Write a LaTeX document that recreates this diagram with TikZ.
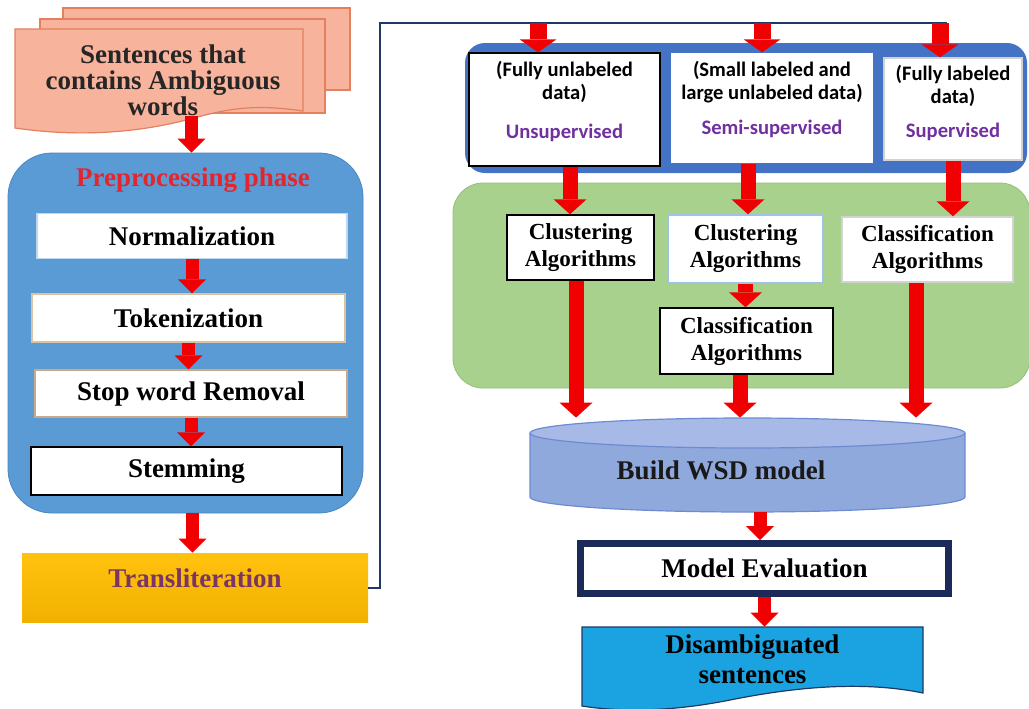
\documentclass[tikz,border=0pt]{standalone}
\usepackage{fontspec}
\setmainfont{Liberation Serif}
\newfontfamily\calibfont{Carlito}
\usepackage{tikz}
\usetikzlibrary{positioning,arrows.meta,calc}

\definecolor{docfill}{HTML}{F7B39B}
\definecolor{docline}{HTML}{E3805F}
\definecolor{prepblue}{HTML}{5B9BD5}
\definecolor{prepline}{HTML}{4A86C0}
\definecolor{headred}{HTML}{E3262D}
\definecolor{goldtop}{HTML}{FFC20E}
\definecolor{goldbot}{HTML}{F2B100}
\definecolor{transtext}{HTML}{7A3566}
\definecolor{linknavy}{HTML}{1F3864}
\definecolor{topblue}{HTML}{4472C4}
\definecolor{purp}{HTML}{7030A0}
\definecolor{algogreen}{HTML}{A9D18E}
\definecolor{algoline}{HTML}{94BF78}
\definecolor{cylfill}{HTML}{8FA9DC}
\definecolor{cyltop}{HTML}{A7B9E6}
\definecolor{cylline}{HTML}{6E8BD0}
\definecolor{evalnavy}{HTML}{1C2A5A}
\definecolor{outblue}{HTML}{1AA3E0}
\definecolor{arrowred}{HTML}{F00000}
\definecolor{normline}{HTML}{BDD7EE}
\definecolor{tokline}{HTML}{D9C3A0}
\definecolor{stopline}{HTML}{C9A98A}
\definecolor{clusline}{HTML}{9DC3E6}

\newcommand\boxfont{\fontsize{13.5}{13}\selectfont\bfseries}
\newcommand\algofont{\fontsize{11.5}{13.5}\selectfont\bfseries}
\newcommand\datafont{\calibfont\fontsize{10.3}{11.5}\selectfont\bfseries}

\begin{document}
\begin{tikzpicture}[x=0.5pt, y=-0.5pt,
  every node/.style = {align=center, inner sep=0pt},
  stepbox/.style = {rectangle, fill=white, draw=#1, line width=0.6pt, font=\boxfont},
  stepbox/.default = black,
  algobox/.style = {rectangle, fill=white, line width=0.7pt, font=\algofont},
  databox/.style = {rectangle, fill=white, line width=0.7pt},
  docsheet/.style = {fill=docfill, draw=docline, line width=0.6pt},
  linkline/.style = {draw=linknavy, line width=1pt},
  smallarrow/.style = {draw=arrowred, line width=6.5pt, -{Triangle[width=14pt, length=7pt, line width=0pt]}},
  midarrow/.style = {draw=arrowred, line width=7.5pt, -{Triangle[width=16.5pt, length=7.5pt, line width=0pt]}},
  toparrow/.style = {draw=arrowred, line width=8.5pt, -{Triangle[width=18.5pt, length=6.5pt, line width=0pt]}}
  ]
  \useasboundingbox (0,0) rectangle (1029,708);

  % input sentences
  \filldraw[docsheet] (63,8) rectangle (350,90);
  \filldraw[docsheet] (40,19) rectangle (325,113);
  \filldraw[docsheet] (15,29) -- (303,29) -- (303,111) .. controls (255,104) and (230,108) .. (190,119)
    .. controls (130,135) and (70,136) .. (15,128) -- cycle;
  \node (docs) [font=\boxfont, text=black!85] at (163,80) {Sentences that\\contains Ambiguous\\words};

  % preprocessing
  \node (prep) [rectangle, rounded corners=22pt, fill=prepblue, draw=prepline,
    minimum width=177.5pt, minimum height=180pt] at (185.5,333) {};
  \node (prephead) [font=\boxfont, text=headred] at (193,180) {Preprocessing phase};
  \node (norm) [stepbox=normline, minimum width=155pt, minimum height=22.5pt] at (192,236) {Normalization};
  \node (tok) [stepbox=tokline, minimum width=156.5pt, minimum height=24pt] at (188.5,318) {Tokenization};
  \node (stop) [stepbox=stopline, minimum width=156pt, minimum height=23.5pt] at (191,393.5) {Stop word Removal};
  \node (stem) [stepbox, minimum width=155.5pt, minimum height=24pt] at (186.5,471) {Stemming};
  \node (translit) [rectangle, top color=goldtop, bottom color=goldbot, minimum width=173pt,
    minimum height=34.5pt, text depth=9.5pt, font=\boxfont, text=transtext] at (195,587.5) {Transliteration};

  \draw[smallarrow] ([xshift=3pt]prep.north |- docs.south) -- ([xshift=3pt]prep.north);
  \draw[smallarrow] (norm.south) -- (norm.south |- tok.north);
  \draw[smallarrow] (tok.south) -- (tok.south |- stop.north);
  \draw[smallarrow] (stop.south) -- (stop.south |- stem.north);
  \draw[smallarrow] ([xshift=3.5pt]prep.south) -- ([xshift=3.5pt]prep.south |- translit.north);

  % link to the data types
  \coordinate (linkup) at (380,23);
  \coordinate (linkend) at (947,23);
  \coordinate (in1) at (538,23);
  \coordinate (in2) at (762,23);
  \coordinate (in3) at (940,23);
  \draw[linkline] (translit.east) -| (linkup) -- (linkend);

  % data types
  \node (datapanel) [rectangle, rounded corners=10pt, fill=topblue, minimum width=281pt,
    minimum height=65pt] at (746,108) {};
  \node (unsup) [databox, draw=black, minimum width=95.5pt, minimum height=56.5pt] at (564.5,109.5) {};
  \node (semi) [databox, minimum width=101pt, minimum height=55pt] at (772,108) {};
  \node (sup) [databox, draw=gray!35, minimum width=69pt, minimum height=51pt] at (953,109) {};
  \node (unsuptext) [font=\datafont] at (564.5,101) {(Fully unlabeled\\data)\\[8pt]\textcolor{purp}{Unsupervised}};
  \node (semitext) [font=\datafont] at (772,99) {(Small labeled and\\large unlabeled data)\\[6pt]\textcolor{purp}{Semi-supervised}};
  \node (suptext) [font=\datafont] at (953,102.5) {(Fully labeled\\data)\\[5.5pt]\textcolor{purp}{Supervised}};

  \draw[toparrow] (in1) -- (in1 |- unsup.north);
  \draw[toparrow] (in2) -- (in2 |- semi.north);
  \draw[toparrow] (in3) -- (in3 |- sup.north);

  % algorithms
  \node (algopanel) [rectangle, rounded corners=15pt, fill=algogreen, draw=algoline,
    minimum width=288.5pt, minimum height=102.5pt] at (741.5,285.5) {};
  \node (clus1) [algobox, draw=black, minimum width=73.5pt, minimum height=32.5pt] at (580.5,247.5) {Clustering\\Algorithms};
  \node (clus2) [algobox, draw=clusline, minimum width=77.5pt, minimum height=34pt] at (745.5,249) {Clustering\\Algorithms};
  \node (classr) [algobox, draw=gray!35, minimum width=85.5pt, minimum height=32.5pt] at (927.5,249.5) {Classification\\Algorithms};
  \node (classm) [algobox, draw=black, minimum width=86.5pt, minimum height=33pt] at (746.5,341) {Classification\\Algorithms};

  \draw[midarrow] ([xshift=2.75pt]unsup.south) -- ([xshift=2.75pt]unsup.south |- clus1.north);
  \draw[midarrow] ([xshift=-12pt]semi.south) -- ([xshift=-12pt]semi.south |- clus2.north);
  \draw[midarrow] (sup.south) -- (sup.south |- classr.north);
  \draw[midarrow] (clus2.south) -- (clus2.south |- classm.north);

  % model
  \fill[cylfill] (530,433) -- (530,497) arc[start angle=180, end angle=360, x radius=108.75pt, y radius=7.5pt]
    -- (965,433) -- cycle;
  \draw[cylline, line width=0.6pt] (530,433) -- (530,497) arc[start angle=180, end angle=360, x radius=108.75pt, y radius=7.5pt]
    -- (965,433);
  \filldraw[fill=cyltop, draw=cylline, line width=0.6pt] (747.5,433) ellipse [x radius=108.75pt, y radius=7.5pt];
  \node (wsd) [minimum width=217.5pt, minimum height=47pt] at (747.5,465) {};
  \node (wsdtext) [font=\boxfont, text=black!90] at (721,470) {Build WSD model};

  \draw[midarrow] ([xshift=-2.25pt]clus1.south) -- ([xshift=-2.25pt]clus1.south |- wsd.north);
  \draw[midarrow] ([xshift=-3.25pt]classm.south) -- ([xshift=-3.25pt]classm.south |- wsd.north);
  \draw[midarrow] ([xshift=-5.75pt]classr.south) -- ([xshift=-5.75pt]classr.south |- wsd.north);

  \node (eval) [rectangle, fill=white, draw=evalnavy, line width=3.5pt, minimum width=184pt,
    minimum height=25pt, font=\boxfont] at (764.5,568.5) {Model Evaluation};

  % output
  \filldraw[fill=outblue, draw=linknavy, line width=0.6pt] (582,627) -- (923,627) -- (923,693)
    .. controls (860,680) and (790,688) .. (730,700) .. controls (670,712) and (620,712) .. (582,706) -- cycle;
  \node (disamb) [font=\boxfont, minimum width=170.5pt, minimum height=32pt] at (752.5,659) {Disambiguated\\[2pt]sentences};

  \draw[smallarrow] ([xshift=6.25pt]wsd.south) -- ([xshift=6.25pt]wsd.south |- eval.north);
  \draw[smallarrow] (eval.south) -- (eval.south |- disamb.north);
\end{tikzpicture}
\end{document}
